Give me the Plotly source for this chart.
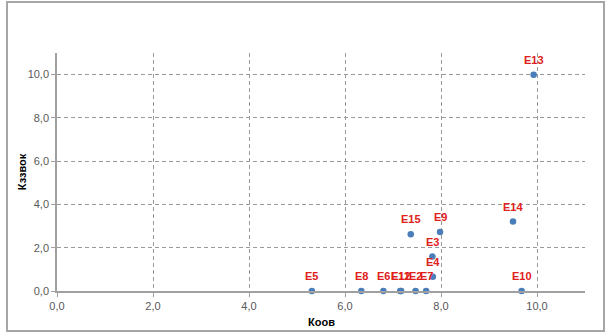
import plotly.graph_objects as go

names = ["E5", "E8", "E6", "E11", "E12", "E2", "E7", "E4", "E3", "E9", "E15", "E14", "E13", "E10"]
koov = [5.31, 6.34, 6.80, 7.15, 7.17, 7.47, 7.69, 7.83, 7.82, 7.98, 7.37, 9.50, 9.93, 9.68]
kzvok = [0.0, 0.0, 0.0, 0.0, 0.0, 0.0, 0.0, 0.66, 1.59, 2.73, 2.62, 3.21, 10.0, 0.0]

x_title = "Коов"
y_title = "Кззвок"

FONT = "Liberation Sans, Arial, sans-serif"

fig = go.Figure(
    go.Scatter(
        x=koov,
        y=kzvok,
        mode="markers",
        text=names,
        marker=dict(color="#4A7EBB", size=6.5),
        cliponaxis=False,
        hoverinfo="x+y+text",
    )
)

# point labels above markers
for n, xv, yv in zip(names, koov, kzvok):
    fig.add_annotation(
        x=xv, y=yv, xref="x", yref="y",
        text="<b>" + n + "</b>",
        showarrow=False,
        yshift=15,
        font=dict(family=FONT, size=11, color="#E0201B"),
    )

axis_common = dict(
    range=[0, 11],
    dtick=2,
    tick0=0,
    tickformat=".1f",
    showgrid=True,
    gridcolor="#9A9A9A",
    griddash="4px,3px",
    gridwidth=1,
    showline=True,
    linecolor="#A0A0A0",
    linewidth=1.5,
    zeroline=False,
    ticks="outside",
    ticklen=4,
    tickcolor="#A0A0A0",
    tickfont=dict(family=FONT, size=11, color="#595959"),
    automargin=False,
)

fig.update_xaxes(**axis_common)
fig.update_yaxes(**axis_common)

# axis titles
fig.add_annotation(
    x=0.5, y=-0.13, xref="paper", yref="paper", yanchor="middle",
    text="<b>" + x_title + "</b>", showarrow=False,
    font=dict(family=FONT, size=11, color="#000000"),
)
fig.add_annotation(
    x=-0.066, y=0.5, xref="paper", yref="paper", xanchor="center",
    text="<b>" + y_title + "</b>", showarrow=False, textangle=-90,
    font=dict(family=FONT, size=11, color="#000000"),
)

fig.update_layout(
    width=607,
    height=336,
    margin=dict(l=57, r=22, t=53, b=45),
    paper_bgcolor="white",
    plot_bgcolor="white",
    separators=", ",
    showlegend=False,
    shapes=[
        dict(type="rect", xref="paper", yref="paper",
             x0=-0.0947, x1=1.036, y0=-0.168, y1=1.214,
             line=dict(color="#A6A6A6", width=2), layer="below"),
    ],
)

fig.write_html("out.html", config={"displayModeBar": False},
               post_script="document.body.style.margin='0';document.body.style.overflow='hidden';")
